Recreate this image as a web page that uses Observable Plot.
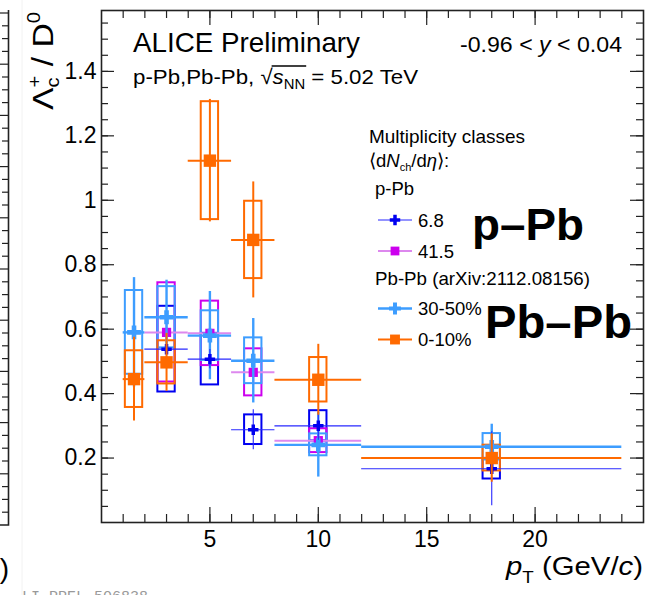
<!DOCTYPE html>
<html><head><meta charset="utf-8">
<script src="https://cdn.jsdelivr.net/npm/d3@7"></script>
<script src="https://cdn.jsdelivr.net/npm/@observablehq/plot@0.6"></script>
<style>
body{margin:0;background:#fff;}
#chart{position:relative;width:648px;height:595px;overflow:hidden;background:#fff;}
</style></head><body><div id="chart"></div>
<script>
// ---------------- data ----------------
const ptLowPPb   = [2, 4, 6, 8, 12];
const ptHighPPb  = [4, 6, 8, 12, 24];
const ptLowPbPb  = [1, 2, 4, 6, 8, 12];
const ptHighPbPb = [2, 4, 6, 8, 12, 24];

// p-Pb <dNch/deta> = 6.8
const valPPb68  = [0.538, 0.507, 0.288, 0.300, 0.167];
const statPPb68 = [0.030, 0.030, 0.062, 0.045, 0.115];
const sysPPb68  = [0.133, 0.080, 0.046, 0.047, 0.032];
// p-Pb <dNch/deta> = 41.5
const valPPb415  = [0.590, 0.587, 0.466, 0.254];
const statPPb415 = [0.030, 0.030, 0.040, 0.030];
const sysPPb415  = [0.154, 0.100, 0.073, 0.037];
// Pb-Pb 30-50%
const valPbPb3050  = [0.590, 0.637, 0.580, 0.502, 0.241, 0.235];
const statPbPb3050 = [0.170, 0.115, 0.137, 0.131, 0.100, 0.070];
const sysPbPb3050  = [0.130, 0.095, 0.077, 0.071, 0.034, 0.041];
// Pb-Pb 0-10%
const valPbPb010  = [0.445, 0.497, 1.123, 0.877, 0.443, 0.200];
const statPbPb010 = [0.130, 0.090, 0.190, 0.180, 0.110, 0.075];
const sysPbPb010  = [0.088, 0.067, 0.183, 0.120, 0.069, 0.040];

const xTickLabels = [5, 10, 15, 20];
const yTickLabels = [0.2, 0.4, 0.6, 0.8, 1.0, 1.2, 1.4];

// ---------------- styling ----------------
const FONT = "'Liberation Sans', Arial, Helvetica, sans-serif";
const W = 648, H = 595;
const mL = 101, mR = 5, mT = 10, mB = 73;
const plotH = H - mT - mB, plotW = W - mL - mR;
const BOX_HW = 0.4;

function rows(lo, hi, v, st, sy) {
  return v.map((y, i) => ({lo: lo[i], hi: hi[i], pt: (lo[i] + hi[i]) / 2, y, stat: st[i], sys: sy[i]}));
}
const series = [
  {key: "pPb68",  data: rows(ptLowPPb, ptHighPPb, valPPb68, statPPb68, sysPPb68),
   box: "#0000f0", bar: "#2828ff", barW: 1.1, statC: "#2828ff", statW: 1.1, sym: "cross", r: 4.4, fill: "#0000f0"},
  {key: "pPb415", data: rows(ptLowPPb, ptHighPPb, valPPb415, statPPb415, sysPPb415),
   box: "#cc00ee", bar: "#dd88ee", barW: 2, statC: "#dd88ee", statW: 2, sym: "square", r: 5.2, fill: "#cc00ee"},
  {key: "PbPb3050", data: rows(ptLowPbPb, ptHighPbPb, valPbPb3050, statPbPb3050, sysPbPb3050),
   box: "#3d9dff", bar: "#3d9dff", barW: 2.4, statC: "#3d9dff", statW: 2.4, sym: "cross", r: 5.8, fill: "#3d9dff"},
  {key: "PbPb010", data: rows(ptLowPbPb, ptHighPbPb, valPbPb010, statPbPb010, sysPbPb010),
   box: "#ff6a00", bar: "#ff6a00", barW: 2, statC: "#ff6a00", statW: 2, sym: "square", r: 7.0, fill: "#ff6a00"}
];

const marks = [];
// systematic boxes
for (const s of series) {
  marks.push(Plot.rect(s.data, {x1: d => d.pt - BOX_HW, x2: d => d.pt + BOX_HW, y1: d => d.y - d.sys, y2: d => d.y + d.sys,
    fill: "none", stroke: s.box, strokeWidth: 2}));
}
// bars and markers
for (const s of [series[1], series[2], series[0], series[3]]) {
  marks.push(Plot.ruleY(s.data, {y: "y", x1: "lo", x2: "hi", stroke: s.bar, strokeWidth: s.barW}));
  marks.push(Plot.ruleX(s.data, {x: "pt", y1: d => d.y - d.stat, y2: d => d.y + d.stat, stroke: s.statC, strokeWidth: s.statW}));
  marks.push(Plot.dot(s.data, {x: "pt", y: "y", symbol: s.sym, r: s.r, fill: s.fill, stroke: "none"}));
}
// ticks (inward, ROOT style)
const xMinor = d3.range(1, 25);
const yMinor = d3.range(1, 32).map(i => i * 0.05);
const tickC = "#222";
marks.push(Plot.tickX(xMinor, {x: d => d, insetTop: plotH - 8, stroke: tickC, strokeWidth: 1.2}));
marks.push(Plot.tickX(xMinor, {x: d => d, insetBottom: plotH - 8, stroke: tickC, strokeWidth: 1.2}));
marks.push(Plot.tickX(xTickLabels, {x: d => d, insetTop: plotH - 15, stroke: tickC, strokeWidth: 1.2}));
marks.push(Plot.tickX(xTickLabels, {x: d => d, insetBottom: plotH - 15, stroke: tickC, strokeWidth: 1.2}));
marks.push(Plot.tickY(yMinor, {y: d => d, insetRight: plotW - 7, stroke: tickC, strokeWidth: 1.2}));
marks.push(Plot.tickY(yMinor, {y: d => d, insetLeft: plotW - 7, stroke: tickC, strokeWidth: 1.2}));
marks.push(Plot.tickY(yTickLabels, {y: d => d, insetRight: plotW - 13, stroke: tickC, strokeWidth: 1.2}));
marks.push(Plot.tickY(yTickLabels, {y: d => d, insetLeft: plotW - 13, stroke: tickC, strokeWidth: 1.2}));
marks.push(Plot.frame({stroke: tickC, strokeWidth: 1.6}));
marks.push(Plot.axisX(xTickLabels, {tickSize: 0, tickPadding: 8, fontSize: 23, label: null, tickFormat: d => String(d)}));
marks.push(Plot.axisY(yTickLabels, {tickSize: 0, tickPadding: 5, fontSize: 23, label: null,
  tickFormat: d => (d === 1 ? "1" : d.toFixed(1))}));

const plot = Plot.plot({
  width: W, height: H,
  marginLeft: mL, marginRight: mR, marginTop: mT, marginBottom: mB,
  x: {domain: [0, 25], axis: null},
  y: {domain: [0, 1.589], axis: null},
  style: {fontFamily: FONT, background: "#fff", color: "#000", overflow: "visible"},
  marks
});
document.getElementById("chart").appendChild(plot);

// ---------------- overlay text (titles, legend, axis titles) ----------------
const svg = d3.select(plot);
const g = svg.append("g").attr("class", "overlay").attr("text-anchor", "start");

function txt(x, y, size, parts, o = {}) {
  const t = g.append("text").attr("x", x).attr("y", y).attr("font-size", size)
    .attr("font-family", o.family || FONT).attr("fill", o.fill || "#000")
    .attr("text-anchor", o.anchor || "start");
  if (o.weight) t.attr("font-weight", o.weight);
  if (o.len) t.attr("textLength", o.len).attr("lengthAdjust", "spacingAndGlyphs");
  if (o.transform) t.attr("transform", o.transform);
  for (const p of (typeof parts === "string" ? [{t: parts}] : parts)) {
    const s = t.append("tspan").text(p.t);
    if (p.it) s.attr("font-style", "italic");
    if (p.size) s.attr("font-size", p.size);
    if (p.dy) s.attr("dy", p.dy);
    if (p.dx) s.attr("dx", p.dx);
  }
  return t;
}

txt(133, 52, 28, "ALICE Preliminary", {len: 227});
const sub = txt(133, 84, 21, [
  {t: "p-Pb,Pb-Pb, "}, {t: "\u221A"}, {t: "s", it: true}, {t: "NN", size: 14, dy: 5}, {t: " = 5.02 TeV", dy: -5}
], {len: 285});
// overline of the square root
try {
  const n = sub.node();
  const iRoot = "p-Pb,Pb-Pb, ".length;
  const a = n.getEndPositionOfChar(iRoot);
  const b = n.getEndPositionOfChar(iRoot + 3);
  g.append("line").attr("x1", a.x - 1).attr("x2", b.x + 1).attr("y1", 84 - 18).attr("y2", 84 - 18)
    .attr("stroke", "#000").attr("stroke-width", 1.3);
} catch (e) {}

txt(622, 52, 22, [{t: "-0.96 < "}, {t: "y", it: true}, {t: " < 0.04"}], {anchor: "end", len: 162});

// legend
txt(369, 143, 18.5, "Multiplicity classes", {len: 156});
txt(369, 167, 18.5, [{t: "\u27E8d"}, {t: "N", it: true}, {t: "ch", size: 11, dy: 4}, {t: "/d", dy: -4}, {t: "\u03B7", it: true}, {t: "\u27E9:"}]);
txt(375, 195, 18.5, "p-Pb");
txt(375, 285, 18.5, "Pb-Pb (arXiv:2112.08156)", {len: 215});

const legendItems = [
  {s: series[0], y: 220, label: "6.8"},
  {s: series[1], y: 251, label: "41.5"},
  {s: series[2], y: 308.5, label: "30-50%"},
  {s: series[3], y: 339.5, label: "0-10%"}
];
const legR = {pPb68: 4.4, pPb415: 3.2, PbPb3050: 5.0, PbPb010: 3.6};
for (const it of legendItems) {
  const s = it.s;
  g.append("line").attr("x1", 378).attr("x2", 412).attr("y1", it.y).attr("y2", it.y)
    .attr("stroke", s.bar).attr("stroke-width", s.barW);
  const sym = s.sym === "cross" ? d3.symbolCross : d3.symbolSquare;
  const rr = s.sym === "cross" ? legR[s.key] : legR[s.key] * 1.55;
  g.append("path").attr("d", d3.symbol(sym, Math.PI * rr * rr)()).attr("transform", `translate(395,${it.y})`)
    .attr("fill", s.fill);
  txt(418, it.y + 6.5, 18.5, it.label);
}

txt(472, 240, 45, "p\u2013Pb", {weight: "bold", len: 112});
txt(485, 338, 46, "Pb\u2013Pb", {weight: "bold", len: 147});

// axis titles
txt(643, 575, 25, [{t: "p", it: true}, {t: "T", size: 16, dy: 8}, {t: " (GeV/", dy: -8}, {t: "c", it: true}, {t: ")"}],
  {anchor: "end", len: 137});
txt(0, 0, 30, [{t: "\u039B"}, {t: "c", size: 18, dy: 6}, {t: "+", size: 18, dx: -9, dy: -18}, {t: " / D", dy: 12}, {t: "0", size: 18, dy: -13}],
  {anchor: "end", transform: "translate(53,12) rotate(-90)", len: 98});

// neighbouring (cut) panel on the left and the figure id
g.append("line").attr("x1", 22).attr("x2", 22).attr("y1", 0).attr("y2", H).attr("stroke", "#f2f2f2").attr("stroke-width", 1);
g.append("path").attr("d", "M0,525H8.5V10").attr("fill", "none").attr("stroke", "#222").attr("stroke-width", 1.6);
for (let i = 0; i < 40; i++) {
  const yy = 13 + i * 12.8;
  if (yy > 522) break;
  g.append("line").attr("x1", i % 4 === 0 ? 0 : 2).attr("x2", 8.5).attr("y1", yy).attr("y2", yy)
    .attr("stroke", "#222").attr("stroke-width", 1.2);
}
txt(9, 578, 28, ")", {anchor: "end"});
txt(22, 601, 15, "LI-PREL-506838", {family: "'Liberation Mono', 'DejaVu Sans Mono', monospace", fill: "#999"});
</script></body></html>
